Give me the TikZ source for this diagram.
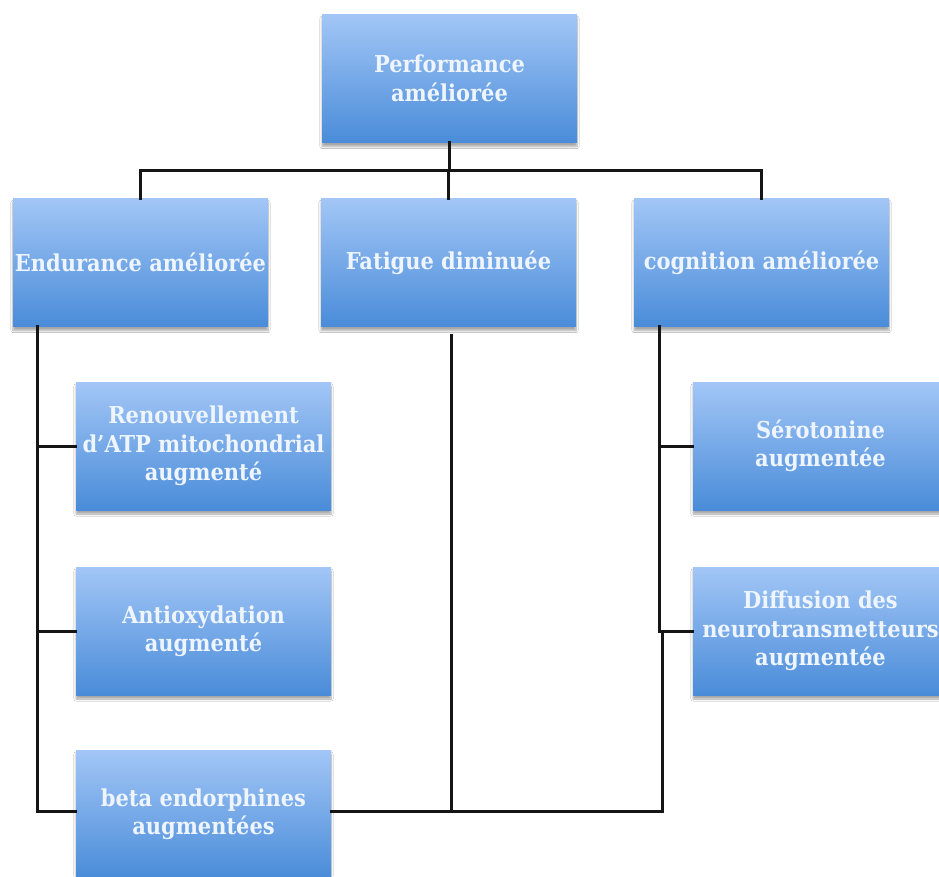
\documentclass[tikz,border=0pt]{standalone}
\usepackage{fontspec}
\setmainfont{DejaVu Serif Condensed}
\usetikzlibrary{shadows.blur}
\definecolor{boxtop}{HTML}{A2C6F6}
\definecolor{boxbot}{HTML}{4A8CD9}
\definecolor{boxtext}{HTML}{EEF5FF}
\definecolor{linecol}{HTML}{151515}
\tikzset{
  box/.style={rectangle, minimum width=255pt, minimum height=128pt, inner sep=1pt,
    top color=boxtop, bottom color=boxbot, draw=none, align=center,
    text=boxtext, font=\fontsize{23.3}{28.5}\selectfont\bfseries,
    blur shadow={shadow xshift=0pt, shadow yshift=-4pt, shadow blur steps=6, shadow opacity=35}},
  conn/.style={draw=linecol, line width=3pt, line cap=rect}
}
\begin{document}
\begin{tikzpicture}[x=1pt, y=-1pt]
\useasboundingbox (0,0) rectangle (939,876);
\fill[white] (0,0) rectangle (939,876);
\begin{scope}
\clip (0,0) rectangle (939,876);
% top level
\node[box] (perf) at (449.5,78.5) {Performance\\améliorée};
% second level
\node[box] (endu) at (140.5,262.5) {Endurance améliorée};
\node[box] (fati) at (448.5,262.5) {Fatigue diminuée};
\node[box] (cogn) at (761.5,262.5) {cognition améliorée};
% endurance details
\node[box] (reno) at (203.5,446) {Renouvellement\\d'ATP mitochondrial\\augmenté};
\node[box] (anti) at (203.5,631) {Antioxydation\\augmenté};
\node[box] (beta) at (203.5,814) {beta endorphines\\augmentées};
% cognition details
\node[box] (sero) at (820.5,446) {Sérotonine\\augmentée};
\node[box] (diff) at (820.5,631) {Diffusion des\\neurotransmetteurs\\augmentée};

% bus lines
\coordinate (topbus) at (0,170);
\coordinate (botbus) at (0,811);
\coordinate (espine) at ([xshift=25pt]endu.south west);
\coordinate (cspine) at ([xshift=26pt]cogn.south west);

\draw[conn] (perf.south) -- (perf.south |- topbus);
\draw[conn] (endu.north) |- (cogn.north |- topbus) -- (cogn.north);
\draw[conn] (fati.north) -- (fati.north |- topbus);

% endurance spine
\draw[conn] (espine) |- (beta.west |- botbus);
\draw[conn] (espine |- reno.west) -- (reno.west);
\draw[conn] (espine |- anti.west) -- (anti.west);

% fatigue spine
\draw[conn] ([xshift=3pt,yshift=-9pt]fati.south) -- ([xshift=3pt]fati.south |- botbus);

% cognition spine
\draw[conn] (cspine) -- (cspine |- diff.west) -- (diff.west);
\draw[conn] (cspine |- sero.west) -- (sero.west);
\draw[conn] ([xshift=3pt]cspine |- diff.west) -- ([xshift=3pt]cspine |- botbus) -- (beta.east |- botbus);
\end{scope}
\end{tikzpicture}
\end{document}
